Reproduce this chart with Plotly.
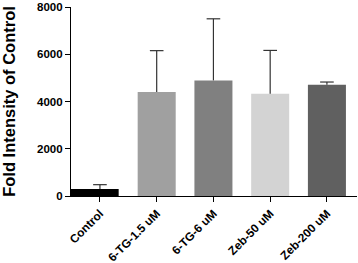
import plotly.graph_objects as go

categories = ["Control", "6-TG-1.5 uM", "6-TG-6 uM", "Zeb-50 uM", "Zeb-200 uM"]
values = [300, 4410, 4900, 4330, 4710]
errors = [180, 1750, 2610, 1840, 120]
colors = ["#000000", "#a0a0a0", "#808080", "#d3d3d3", "#606060"]
y_ticks = [0, 2000, 4000, 6000, 8000]

widths = [0.84, 0.67, 0.67, 0.67, 0.67]
offsets = [-0.51, -0.335, -0.335, -0.335, -0.335]
cap_half = 0.12

fig = go.Figure()
fig.add_trace(go.Bar(
    x=list(range(len(categories))), y=values,
    width=widths, offset=offsets,
    marker=dict(color=colors, line=dict(width=0)),
))

# upward-only error whiskers (no cap at the bar top)
ex, ey = [], []
for i, (v, e) in enumerate(zip(values, errors)):
    ex += [i, i, None, i - cap_half, i + cap_half, None]
    ey += [v, v + e, None, v + e, v + e, None]
fig.add_trace(go.Scatter(x=ex, y=ey, mode="lines", line=dict(color="#333333", width=1.2),
                         hoverinfo="skip", cliponaxis=False))

font_family = "Liberation Sans, Arial, sans-serif"
fig.update_layout(
    width=358, height=263,
    margin=dict(l=71, r=1, t=7, b=67, autoexpand=False),
    plot_bgcolor="white", paper_bgcolor="white",
    showlegend=False,
    font=dict(family=font_family, color="black"),
    xaxis=dict(
        range=[-0.51, 4.53], automargin=False,
        tickmode="array", tickvals=list(range(len(categories))), ticktext=categories,
        tickangle=-45, showline=True, linecolor="black", linewidth=1.2,
        ticks="outside", ticklen=5, tickcolor="black", showgrid=False, zeroline=False,
        tickfont=dict(size=11.8, family=font_family, weight="bold"),
    ),
    yaxis=dict(
        range=[0, 8010], tickmode="array", tickvals=y_ticks, ticktext=[str(v) for v in y_ticks],
        automargin=False,
        showline=True, linecolor="black", linewidth=1.2,
        ticks="outside", ticklen=5, tickcolor="black", showgrid=False, zeroline=False,
        tickfont=dict(size=11.5, family=font_family, weight="bold"),
        title=dict(text="Fold Intensity of Control", standoff=20,
                   font=dict(size=16.5, family=font_family, weight="bold")),
    ),
)

fig.write_html("out.html", config={"displayModeBar": False},
               post_script="document.body.style.margin='0';document.body.style.overflow='hidden';")
